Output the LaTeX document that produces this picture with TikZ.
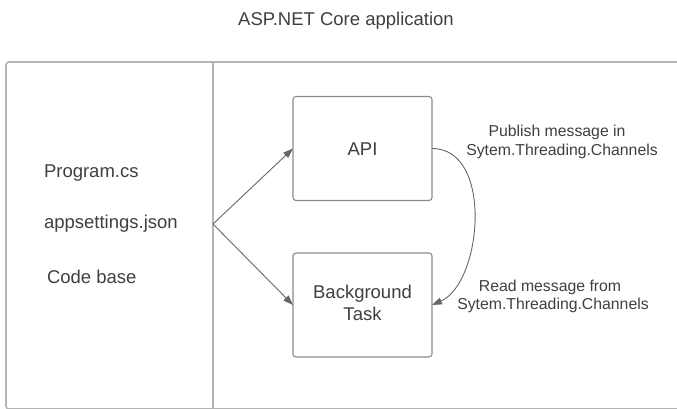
\documentclass[tikz,border=0pt]{standalone}
\usepackage{fontspec}
\setmainfont{Liberation Sans}
\usetikzlibrary{arrows.meta}
\definecolor{txt}{HTML}{3F3F3F}
\definecolor{frame}{HTML}{B4B4B4}
\definecolor{boxline}{HTML}{8C8C8C}
\definecolor{arr}{HTML}{666666}
\tikzset{
  every node/.style={inner sep=0pt, outer sep=0pt, text=txt},
  bigtxt/.style={font=\fontsize{18.5}{22}\selectfont},
  smalltxt/.style={font=\fontsize{15.8}{19}\selectfont},
  compbox/.style={draw=boxline, line width=1.1pt, rounded corners=3pt, minimum width=139pt, minimum height=104pt, align=center},
  conn/.style={draw=arr, line width=0.9pt, -{Triangle[length=10pt,width=7pt]}},
}
\begin{document}
\begin{tikzpicture}[x=1pt,y=-1pt]
\useasboundingbox (0,0) rectangle (677,408);
\clip (0,0) rectangle (677,408);
% title
\node[bigtxt, anchor=base] (title) at (346,25) {ASP.NET Core application};
% outer frame
\draw[frame, line width=1.6pt, rounded corners=3pt] (6,62) rectangle (700,409);
\coordinate (divtop) at (213,62);
\coordinate (divbot) at (213,410);
\draw[frame, line width=1.1pt] (divtop) -- (divbot);
% left texts
\node[bigtxt, anchor=base west] (prog) at (44,177) {Program.cs};
\node[bigtxt, anchor=base west] (apps) at (44,228) {appsettings.json};
\node[bigtxt, anchor=base west] (code) at (47,283) {Code base};
% boxes
\node[compbox] (api) at (362.5,148.5) {};
\node[bigtxt, anchor=base] (apitxt) at (362.5,155) {API};
\node[compbox] (bg) at (362.5,305) {};
\node[bigtxt, anchor=base] (bgtxt1) at (362.5,298.5) {Background};
\node[bigtxt, anchor=base] (bgtxt2) at (362.5,320.5) {Task};
% connectors
\coordinate (src) at (213,224);
\draw[conn] (src) -- (api.west);
\draw[conn] (src) -- (bg.west);
\draw[conn] (api.east) .. controls +(62,0) and +(50,-22) .. (bg.east);
% labels
\node[smalltxt, anchor=base] (pub1) at (557,136) {Publish message in};
\node[smalltxt, anchor=base] (pub2) at (562,155) {Sytem.Threading.Channels};
\node[smalltxt, anchor=base] (read1) at (550,291.5) {Read message from};
\node[smalltxt, anchor=base] (read2) at (553,309.5) {Sytem.Threading.Channels};
\end{tikzpicture}
\end{document}
